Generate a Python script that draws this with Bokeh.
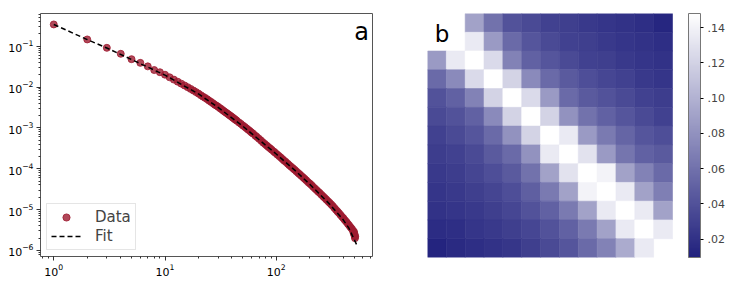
from bokeh.plotting import figure
from bokeh.layouts import row
from bokeh.models import (ColumnDataSource, LinearColorMapper, ColorBar, FixedTicker,
                          CustomJSTickFormatter, Label, Legend, LegendItem)
from bokeh.embed import file_html
from bokeh.resources import INLINE

# ---------------- panel a data ----------------
data_x = [1, 2, 3, 4, 5, 6, 7, 8, 9, 10,
          11, 12, 13, 14, 15, 16, 17, 18, 19, 20,
          21, 22, 23, 24, 25, 26, 27, 28, 29, 30,
          31, 32, 33, 34, 35, 36, 37, 38, 39, 40,
          41, 42, 43, 44, 46, 48, 50, 52, 54, 56,
          58, 60, 62, 65, 67, 70, 73, 76, 79, 82,
          85, 88, 91, 95, 98, 102, 106, 110, 114, 118,
          122, 127, 131, 136, 141, 146, 151, 157, 162, 168,
          174, 180, 186, 193, 200, 207, 214, 222, 230, 238,
          246, 255, 264, 273, 282, 292, 302, 312, 322, 333,
          344, 355, 366, 378, 390, 402, 414, 427, 440, 452,
          465, 478, 490, 495, 500, 503, 505, 508, 510, 512]
data_y = [0.34, 0.146, 0.091, 0.065, 0.048, 0.039, 0.032, 0.026, 0.023, 0.020,
          0.0173, 0.0152, 0.0135, 0.0121, 0.0109, 0.0099, 0.0090, 0.0082, 0.0075, 0.0069,
          0.0063, 0.0058, 0.0054, 0.0050, 0.0046, 0.0043, 0.0040, 0.0037, 0.0035, 0.0033,
          0.00306, 0.0029, 0.00271, 0.00255, 0.0024, 0.00228, 0.00216, 0.00204, 0.00194, 0.00184,
          0.00175, 0.00166, 0.00158, 0.00151, 0.00137, 0.00126, 0.00115, 0.00106, 0.000975, 0.00090,
          0.000834, 0.00077, 0.000719, 0.00064, 0.000599, 0.00054, 0.000488, 0.00044, 0.000404, 0.00037,
          0.00034, 0.000315, 0.000291, 0.000264, 0.000245, 0.000223, 0.000204, 0.000187, 0.000171, 0.000157,
          0.000146, 0.000132, 0.000122, 0.000112, 0.000103, 9.5e-5, 8.7e-5, 7.9e-5, 7.35e-5, 6.7e-5,
          6.15e-5, 5.65e-5, 5.2e-5, 4.7e-5, 4.34e-5, 4.0e-5, 3.64e-5, 3.3e-5, 3.02e-5, 2.75e-5,
          2.54e-5, 2.3e-5, 2.1e-5, 1.92e-5, 1.76e-5, 1.6e-5, 1.46e-5, 1.34e-5, 1.22e-5, 1.1e-5,
          9.93e-6, 9.0e-6, 8.2e-6, 7.4e-6, 6.7e-6, 6.1e-6, 5.5e-6, 5.0e-6, 4.5e-6, 4.1e-6,
          3.7e-6, 3.4e-6, 3.05e-6, 2.7e-6, 2.85e-6, 2.4e-6, 2.55e-6, 2.25e-6, 2.0e-6, 2.2e-6]
fit_x = [1, 2, 3, 5, 10, 20, 30, 50, 100, 150, 200, 300, 400, 450, 530]
fit_y = [0.34, 0.145, 0.090, 0.047, 0.0195, 0.00676, 0.00316, 0.0011, 0.000229,
         8.7e-5, 4.17e-5, 1.38e-5, 5.6e-6, 3.5e-6, 1.35e-6]

# ---------------- panel b data (13 x 13, top row first) ----------------
nan = float("nan")
row0 = [nan, nan, 0.090, 0.060, 0.040, 0.035, 0.030, 0.028, 0.025, 0.022, 0.020, 0.018, 0.013]
row1 = [nan, nan, 0.135, 0.085, 0.055, 0.042, 0.035, 0.030, 0.028, 0.025, 0.022, 0.020, 0.018]
row2 = [0.085, 0.135, 0.148, 0.125, 0.070, 0.050, 0.042, 0.035, 0.030, 0.028, 0.025, 0.022, 0.020]
row3 = [0.055, 0.075, 0.125, 0.148, 0.120, 0.075, 0.055, 0.045, 0.038, 0.033, 0.030, 0.025, 0.022]
row4 = [0.040, 0.050, 0.070, 0.120, 0.148, 0.125, 0.085, 0.055, 0.045, 0.040, 0.035, 0.030, 0.027]
row5 = [0.035, 0.040, 0.050, 0.075, 0.120, 0.148, 0.120, 0.080, 0.060, 0.050, 0.042, 0.035, 0.030]
row6 = [0.030, 0.035, 0.042, 0.055, 0.080, 0.120, 0.148, 0.135, 0.085, 0.065, 0.052, 0.042, 0.038]
row7 = [0.027, 0.030, 0.035, 0.045, 0.055, 0.080, 0.135, 0.148, 0.130, 0.085, 0.062, 0.050, 0.045]
row8 = [0.025, 0.027, 0.032, 0.038, 0.045, 0.060, 0.090, 0.130, 0.148, 0.140, 0.090, 0.070, 0.055]
row9 = [0.022, 0.025, 0.028, 0.032, 0.038, 0.048, 0.065, 0.090, 0.140, 0.148, 0.135, 0.090, 0.068]
row10 = [0.020, 0.022, 0.025, 0.028, 0.033, 0.040, 0.050, 0.065, 0.090, 0.135, 0.148, 0.135, 0.090]
row11 = [0.017, 0.018, 0.022, 0.025, 0.028, 0.033, 0.040, 0.050, 0.065, 0.090, 0.135, 0.148, 0.135]
row12 = [0.012, 0.015, 0.018, 0.020, 0.023, 0.028, 0.035, 0.042, 0.055, 0.070, 0.095, 0.135, nan]
heat_rows = [row0, row1, row2, row3, row4, row5, row6, row7, row8, row9, row10, row11, row12]
cbar_low, cbar_high = 0.0095, 0.148
cbar_ticks = [0.02, 0.04, 0.06, 0.08, 0.10, 0.12, 0.14]

FONT = "DejaVu Sans"

# ---------------- panel a ----------------
p1 = figure(x_axis_type="log", y_axis_type="log", frame_width=332, frame_height=243,
            x_range=(0.76, 733), y_range=(7.1e-7, 0.63),
            output_backend="svg", toolbar_location=None,
            min_border_left=40, min_border_top=13, min_border_right=8, min_border_bottom=18)
p1.xgrid.visible = False
p1.ygrid.visible = False
p1.outline_line_color = "#555555"
p1.outline_line_width = 1
p1.background_fill_color = "white"
for ax in (p1.xaxis[0], p1.yaxis[0]):
    ax.axis_line_color = None
    ax.major_tick_out = 4
    ax.major_tick_in = 0
    ax.minor_tick_out = 2
    ax.minor_tick_in = 0
    ax.major_tick_line_color = "#333333"
    ax.minor_tick_line_color = "#333333"
    ax.major_label_text_font = FONT
    ax.major_label_text_font_size = "11px"
    ax.major_label_text_color = "black"
    ax.major_label_standoff = 3

r_data = p1.scatter(data_x, data_y, size=7, fill_color="#9e1a2f", line_color="#9e1a2f",
                    fill_alpha=0.8, line_alpha=0.8)
r_fit = p1.line(fit_x, fit_y, line_color="black", line_dash="5 3", line_width=1.5)

leg = Legend(items=[LegendItem(label="Data", renderers=[r_data]),
                    LegendItem(label="Fit", renderers=[r_fit])],
             location="bottom_left")
leg.label_text_font = FONT
leg.label_text_font_size = "15px"
leg.border_line_color = "#cccccc"
leg.margin = 6
leg.padding = 4
leg.spacing = 1
leg.glyph_width = 30
leg.glyph_height = 18
leg.label_standoff = 14
p1.add_layout(leg)

p1.add_layout(Label(x=680, y=0.22, text="a", text_align="right", text_baseline="alphabetic",
                    text_font=FONT, text_font_size="24px", text_color="black"))

# ---------------- panel b ----------------
hx, hy, hv = [], [], []
n = len(heat_rows)
for i, r in enumerate(heat_rows):
    for j, v in enumerate(r):
        if v == v:
            hx.append(j + 0.5)
            hy.append(n - i - 0.5)
            hv.append(v)
src = ColumnDataSource(dict(x=hx, y=hy, v=hv))

lo = (33, 33, 125)
palette = []
for k in range(256):
    t = k / 255
    c = tuple(int(round(lo[m] + (255 - lo[m]) * t)) for m in range(3))
    palette.append("#%02x%02x%02x" % c)
mapper = LinearColorMapper(palette=palette, low=cbar_low, high=cbar_high)

# frame is 16px wider than the 13 cells, leaving the white gap before the colour bar
p2 = figure(x_range=(0, 13 * 261 / 245), y_range=(0, 13), frame_width=261, frame_height=244,
            output_backend="svg", toolbar_location=None,
            x_axis_location=None, y_axis_location=None,
            min_border_left=47, min_border_top=12, min_border_right=4, min_border_bottom=18)
p2.xgrid.visible = False
p2.ygrid.visible = False
p2.outline_line_color = None
p2.rect("x", "y", width=1, height=1, source=src,
        fill_color={"field": "v", "transform": mapper},
        line_color={"field": "v", "transform": mapper}, line_width=0.6)

cb = ColorBar(color_mapper=mapper, ticker=FixedTicker(ticks=cbar_ticks),
              formatter=CustomJSTickFormatter(code="return tick.toFixed(2).replace(/^0/, '')"),
              width=12, padding=0, margin=0, bar_line_color="#777777",
              major_tick_out=3, major_tick_in=0, major_tick_line_color="black",
              major_label_text_font=FONT, major_label_text_font_size="11px",
              label_standoff=4)
p2.add_layout(cb, "right")

p2.add_layout(Label(x=0.38, y=11.93, text="b", text_align="left", text_baseline="alphabetic",
                    text_font=FONT, text_font_size="23px", text_color="black"))

layout = row(p1, p2)
open("out.html", "w").write(file_html(layout, INLINE))
